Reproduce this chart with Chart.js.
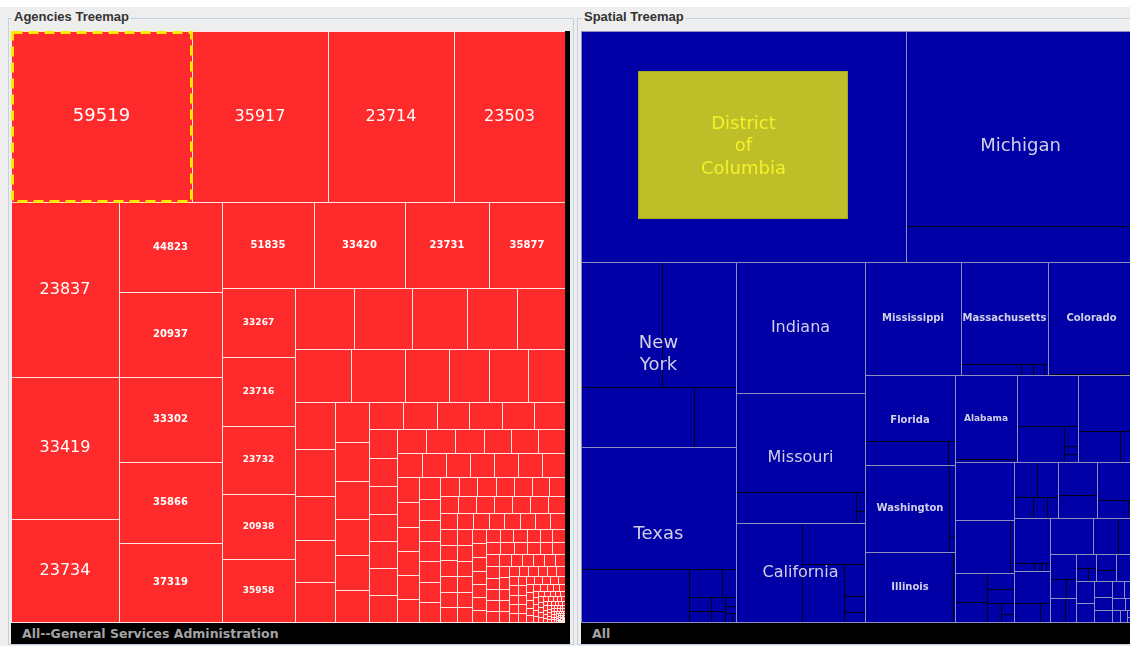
<!DOCTYPE html>
<html>
<head>
<meta charset="utf-8">
<script src="https://cdn.jsdelivr.net/npm/chart.js@4.4.1/dist/chart.umd.min.js"></script>
<style>
html, body { margin: 0; padding: 0; }
body { width: 1130px; height: 646px; overflow: hidden; background: #eeeeee; position: relative; font-family: "DejaVu Sans", sans-serif; }
.topstrip { position: absolute; left: 0; top: 0; width: 1130px; height: 7px; background: #ffffff; }
.panel { position: absolute; top: 18px; height: 627px; border: 1px solid #c3d1e0; box-sizing: border-box; }
.ptitle { position: absolute; top: 9px; background: #eeeeee; padding: 0 2px; font: bold 13px "Liberation Sans", sans-serif; color: #333333; }
.box { position: absolute; top: 31px; width: 554px; height: 592px; }
.strip { position: absolute; top: 31px; width: 5px; height: 592px; background: #000000; }
.bar { position: absolute; top: 623px; height: 21px; background: #000000; color: #a4a4a4; font: bold 12.5px "DejaVu Sans", sans-serif; line-height: 21px; padding-left: 11px; box-sizing: border-box; white-space: nowrap; }
</style>
</head>
<body>
<div class="topstrip"></div>
<div class="panel" style="left:8px;width:566px;"></div>
<div class="panel" style="left:577px;width:570px;"></div>
<div class="ptitle" style="left:12px;">Agencies Treemap</div>
<div class="ptitle" style="left:582px;">Spatial Treemap</div>
<div class="box" style="left:11px;"><canvas id="agencies"></canvas></div>
<div class="strip" style="left:565px;"></div>
<div class="bar" style="left:11px;width:559px;">All--General Services Administration</div>
<div class="box" style="left:581px;"><canvas id="spatial"></canvas></div>
<div class="bar" style="left:581px;width:560px;">All</div>
<script>
// agency ids shown on the biggest cells (in size order)
const agencyIds = ['59519', '35917', '23714', '23503', '23837', '33419', '23734',
  '44823', '20937', '33302', '35866', '37319', '51835', '33420', '23731', '35877',
  '33267', '23716', '23732', '20938', '35958'];

// relative cell sizes, largest first
const agencySizes = [30951, 23256, 21546, 18981, 18900, 15336, 11124,
  9270, 8755, 8755, 8343, 8137, 7900, 7850, 7220, 6540,
  5037, 5037, 4964, 4745, 4599, 3658, 3534, 3410, 3038, 2976,
  2950, 2800, 2290, 2100, 2000, 1950, 1900, 1850, 1750, 1680, 1580,
  1400, 1365, 1330, 1225, 1225, 1120, 930, 920, 900, 890, 880, 856,
  780, 770, 760, 750, 740, 735, 730, 720, 710, 690, 675, 660, 650,
  600, 590, 580, 575, 570, 565, 560, 550, 545, 540, 535, 530, 520,
  450, 445, 440, 435, 430, 425, 420, 360, 355, 350, 345, 340, 335,
  300, 298, 295, 292, 290, 288, 285, 282, 280, 278, 276, 274, 272, 270,
  260, 255, 252, 250, 248, 245, 242, 240,
  225, 222, 220, 218, 215, 212, 210, 208, 205, 202,
  190, 188, 185, 182, 180, 178, 175, 172, 170, 168,
  160, 158, 155, 152, 150, 148, 145, 142, 140, 138, 135, 132,
  128, 125, 122, 120, 118, 115, 112, 110, 108, 105, 102, 100,
  96, 94, 92, 90, 88, 86, 84, 82, 80, 78, 76, 74, 72, 70,
  68, 66, 64, 62, 60, 58, 56, 54, 52, 50, 48, 46, 44, 42,
  40, 38, 36, 35, 34, 33, 32, 31, 30, 29, 28, 27, 26, 25, 24, 23,
  22, 21, 20, 19, 18, 18, 17, 17, 16, 16, 15, 15, 14, 14, 13, 13, 12, 12, 11, 11,
  10, 10, 10, 9, 9, 9, 9, 8, 8, 8, 8, 8, 7, 7, 7, 7, 6, 6, 6, 6,
  5, 5, 5, 5, 4, 4, 4, 4, 4, 3, 3, 3, 3, 3, 2, 2, 2, 2, 2, 2,
  2, 2, 2, 2, 1, 1, 1, 1, 1, 1, 1, 1, 1, 1, 1, 1];

// states with a label, in size order
const stateNames = ['District of Columbia', 'Michigan', 'New York', 'Texas', 'Indiana',
  'Missouri', 'California', 'Mississippi', 'Massachusetts', 'Colorado', 'Florida',
  'Washington', 'Illinois', 'Alabama'];

const stateSizes = [75075, 52899, 28675, 27125, 16850, 16800, 12771, 10848, 9830, 9800,
  8010, 7743, 6230, 5418, 5246, 4902, 3422, 3186, 2891, 2464, 2240, 2128, 1908, 1872,
  1505, 1505, 1116, 600, 560, 540, 500, 400, 330, 300, 250, 220, 200, 180, 150, 120,
  100, 80, 60, 40];

// sub-areas inside each state
const dcParts = [];
const michiganParts = [44655, 8244];
const newYorkParts = [10125, 9250, 6780, 2520];
const texasParts = [19065, 5824, 946, 400, 300, 250, 200, 150, 100, 80, 60, 40];
const indianaParts = [];
const missouriParts = [12900, 3720, 171, 108];
const californiaParts = [6534, 2580, 2457, 672, 336, 210];
const mississippiParts = [];
const massachusettsParts = [8686, 696, 144, 132, 48];
const coloradoParts = [9657, 60, 40, 30, 20];
const floridaParts = [5874, 1968, 168];
const washingtonParts = [7304, 438, 90];
const illinoisParts = [6003, 138];
const alabamaParts = [5229, 190];
const state15Parts = [3050, 1692, 280, 112, 112];
const state16Parts = [3135, 1302, 465];
const state17Parts = [];
const state18Parts = [2970, 216];
const state19Parts = [928, 640, 420, 380, 250, 150, 100];
const state20Parts = [805, 735, 399, 294, 231];
const state21Parts = [1320, 920];
const state22Parts = [1444, 558, 126];
const state23Parts = [1620, 160, 56, 40, 32];
const state24Parts = [1188, 494, 190];
const state25Parts = [];
const state26Parts = [910, 595];
const state27Parts = [620, 300, 196];
const state28Parts = [350, 250];
const state29Parts = [300, 160, 100];
const state30Parts = [330, 210];

const stateParts = [dcParts, michiganParts, newYorkParts, texasParts, indianaParts,
  missouriParts, californiaParts, mississippiParts, massachusettsParts, coloradoParts,
  floridaParts, washingtonParts, illinoisParts, alabamaParts, state15Parts, state16Parts,
  state17Parts, state18Parts, state19Parts, state20Parts, state21Parts, state22Parts,
  state23Parts, state24Parts, state25Parts, state26Parts, state27Parts, state28Parts,
  state29Parts, state30Parts];

const selectedAgency = 0;
const selectedState = 0;

const TM_W = 554, TM_H = 591;

function worst(row, side) {
    let s = 0, mx = 0, mn = Infinity;
    row.forEach(a => { s += a; mx = Math.max(mx, a); mn = Math.min(mn, a); });
    return Math.max(side * side * mx / (s * s), (s * s) / (side * side * mn));
}

// squarified layout, returns rects in the order of the values
function squarify(values, x, y, w, h) {
    const total = values.reduce((a, b) => a + b, 0);
    const areas = values.map(v => v * w * h / total);
    const rects = [];
    let i = 0;
    while (i < areas.length) {
        const side = Math.min(w, h);
        let row = [areas[i]];
        let best = worst(row, side);
        let j = i + 1;
        while (j < areas.length) {
            const next = row.concat(areas[j]);
            const wr = worst(next, side);
            if (wr > best) break;
            row = next; best = wr; j++;
        }
        const sum = row.reduce((a, b) => a + b, 0);
        if (w <= h) {
            const rh = sum / w;
            let cx = x;
            row.forEach(a => { const rw = a / rh; rects.push({ x0: cx, y0: y, x1: cx + rw, y1: y + rh }); cx += rw; });
            y += rh; h -= rh;
        } else {
            const rw = sum / h;
            let cy = y;
            row.forEach(a => { const rh = a / rw; rects.push({ x0: x, y0: cy, x1: x + rw, y1: cy + rh }); cy += rh; });
            x += rw; w -= rw;
        }
        i = j;
    }
    return rects;
}

function toCells(sizes, names, parts) {
    const rects = squarify(sizes, 0, 0, TM_W, TM_H);
    return rects.map((r, i) => {
        const cell = { x: (r.x0 + r.x1) / 2, y: (r.y0 + r.y1) / 2, x0: r.x0, y0: r.y0, x1: r.x1, y1: r.y1, label: names[i] || '' };
        const p = parts ? parts[i] : null;
        if (p && p.length > 1) cell.parts = squarify(p, r.x0, r.y0, r.x1 - r.x0, r.y1 - r.y0);
        return cell;
    });
}

function strokeBox(ctx, l, t, r, b) {
    ctx.strokeRect(l + 0.5, t + 0.5, r - l, b - t);
}

function labelFont(w, h) {
    if (Math.min(w, h) >= 98) return { size: w * h >= 25000 ? 18 : 16, bold: false };
    return { size: w * h >= 6000 ? 10 : 9, bold: true };
}

const treemapCells = {
    id: 'treemapCells',
    afterDatasetsDraw(chart, args, o) {
        const ctx = chart.ctx, xs = chart.scales.x, ys = chart.scales.y;
        const px = v => Math.round(xs.getPixelForValue(v));
        const py = v => Math.round(ys.getPixelForValue(v));
        const cells = chart.data.datasets[0].data;
        ctx.save();
        ctx.lineWidth = 1;
        cells.forEach(c => {
            ctx.fillStyle = o.fill;
            ctx.fillRect(px(c.x0), py(c.y0), px(c.x1) - px(c.x0), py(c.y1) - py(c.y0));
        });
        ctx.strokeStyle = o.partLine;
        cells.forEach(c => (c.parts || []).forEach(p => strokeBox(ctx, px(p.x0), py(p.y0), px(p.x1), py(p.y1))));
        ctx.strokeStyle = o.cellLine;
        cells.forEach(c => strokeBox(ctx, px(c.x0), py(c.y0), px(c.x1), py(c.y1)));

        // selected cell
        const s = cells[o.selected];
        const sl = px(s.x0), st = py(s.y0), sr = px(s.x1), sb = py(s.y1);
        if (o.selectStyle === 'dash') {
            ctx.strokeStyle = '#ffea00';
            ctx.lineWidth = 3;
            ctx.setLineDash([10, 6]);
            ctx.strokeRect(sl + 1.5, st + 1.5, sr - sl - 2, sb - st - 2);
            ctx.setLineDash([]);
            ctx.lineWidth = 1;
        } else {
            const bl = Math.round(sl + (sr - sl) * 0.175), br = Math.round(sr - (sr - sl) * 0.178);
            const bt = Math.round(st + (sb - st) * 0.173), bb = Math.round(sb - (sb - st) * 0.186);
            ctx.fillStyle = '#bebe28';
            ctx.fillRect(bl, bt, br - bl, bb - bt);
            ctx.strokeStyle = '#a8a820';
            strokeBox(ctx, bl, bt, br - 1, bb - 1);
        }

        // labels
        ctx.textAlign = 'center';
        ctx.textBaseline = 'middle';
        cells.forEach((c, i) => {
            if (!c.label) return;
            const l = px(c.x0), t = py(c.y0), r = px(c.x1), b = py(c.y1);
            const f = labelFont(r - l, b - t);
            ctx.font = (f.bold ? 'bold ' : '') + f.size + 'px "DejaVu Sans", sans-serif';
            ctx.fillStyle = (i === o.selected && o.selectStyle !== 'dash') ? '#f2f22a' : o.labelColor;
            const lines = f.bold ? [c.label] : c.label.split(' ');
            const lh = f.size * 1.25;
            const cx = (l + r) / 2, cy = (t + b) / 2;
            lines.forEach((ln, k) => ctx.fillText(ln, cx, cy + (k - (lines.length - 1) / 2) * lh));
        });
        ctx.restore();
    }
};

function makeTreemap(id, cells, opts) {
    return new Chart(document.getElementById(id), {
        type: 'scatter',
        data: { datasets: [{ data: cells, pointRadius: 0, pointHoverRadius: 0 }] },
        options: {
            responsive: true,
            maintainAspectRatio: false,
            animation: false,
            events: [],
            layout: { padding: 0 },
            scales: {
                x: { type: 'linear', min: 0, max: TM_W, display: false },
                y: { type: 'linear', min: 0, max: TM_H + 1, reverse: true, display: false }
            },
            plugins: {
                legend: { display: false },
                tooltip: { enabled: false },
                treemapCells: opts
            }
        },
        plugins: [treemapCells]
    });
}

makeTreemap('agencies', toCells(agencySizes, agencyIds, null), {
    fill: '#fe2a2b', cellLine: '#ffe4e4', partLine: '#ffe4e4', labelColor: '#ffffff',
    selected: selectedAgency, selectStyle: 'dash'
});

makeTreemap('spatial', toCells(stateSizes, stateNames, stateParts), {
    fill: '#0000a6', cellLine: '#8e8ebe', partLine: '#000018', labelColor: '#d0d0e6',
    selected: selectedState, selectStyle: 'box'
});
</script>
</body>
</html>
